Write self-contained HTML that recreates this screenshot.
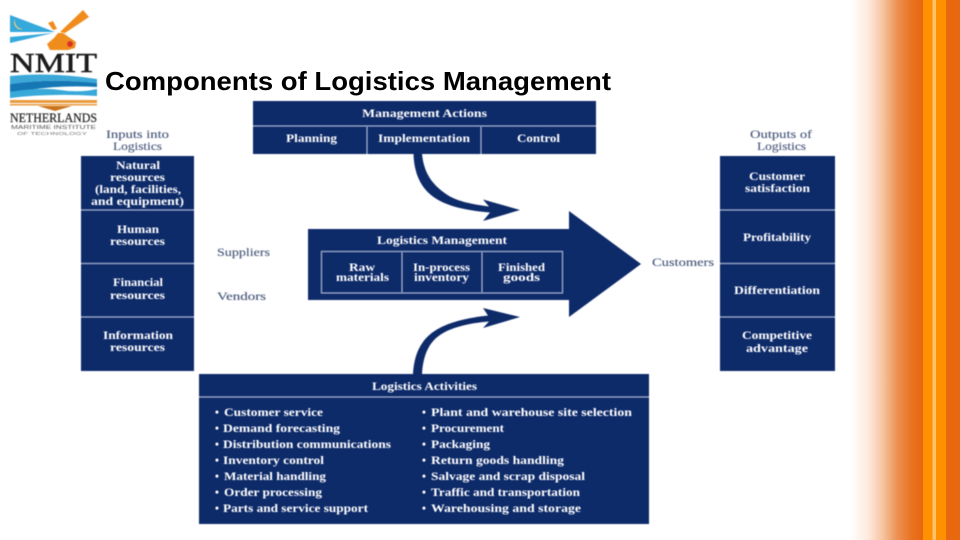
<!DOCTYPE html>
<html><head><meta charset="utf-8"><style>
html,body{margin:0;padding:0;background:#fff;width:960px;height:540px;overflow:hidden}
svg{display:block}
.w{fill:#fff;font:bold 11.2px "Liberation Serif",serif}
.g{fill:#47567a;font:11.2px "Liberation Serif",serif;stroke:#47567a;stroke-width:.12}
.n{fill:#0d2b69}
.d{stroke:#8aa3cf;stroke-width:1;fill:none}
</style></head><body>
<svg width="960" height="540" viewBox="0 0 960 540" xmlns="http://www.w3.org/2000/svg">
<defs>
<linearGradient id="bg" gradientUnits="userSpaceOnUse" x1="850" y1="0" x2="923" y2="0">
<stop offset="0" stop-color="#fff"/><stop offset=".25" stop-color="#fdeadd"/><stop offset=".45" stop-color="#f6c4a0"/><stop offset=".65" stop-color="#ec9052"/><stop offset=".85" stop-color="#e8721f"/><stop offset="1" stop-color="#e8660f"/>
</linearGradient>
<filter id="b" x="-5%" y="-5%" width="110%" height="110%"><feGaussianBlur stdDeviation=".4"/></filter>
</defs>
<rect x="850" y="0" width="73" height="540" fill="url(#bg)"/>
<rect x="923" y="0" width="9.500" height="540" fill="#ff9000"/>
<rect x="932.500" y="0" width="3.500" height="540" fill="#ffc26a"/>
<rect x="936" y="0" width="10" height="540" fill="#ff9000"/>
<rect x="946" y="0" width="14" height="540" fill="#e8680f"/>

<!-- Logo -->
<g filter="url(#b)">
<polygon points="10,15 55,32 10,32" fill="#35a8dc"/>
<polygon points="10,37 53,33 10,43" fill="#35a8dc"/>
<path d="M15,19 a7,7 0 0 0 8,10 a8,8 0 0 1 -8,-10z" fill="#e6d832"/>
<polygon points="60,32 83,10 89,17 65,33" fill="#f08c1e"/>
<polygon points="48,23 53,21 57,29 53,30" fill="#f08c1e"/>
<polygon points="58,33 63,33 76,42 75,48 68,50 50,50 47,44 54,38" fill="#f08c1e"/>
<circle cx="70" cy="44" r="3" fill="#d8322a"/>
<text x="10" y="72" font-family="Liberation Serif,serif" font-size="27" fill="#1a1a1a" stroke="#1a1a1a" stroke-width=".5" textLength="87" lengthAdjust="spacingAndGlyphs">NMIT</text>
<path d="M10,76 Q50,72 97,79 L97,83 Q50,78 10,84z" fill="#3aa8d8"/>
<path d="M10,84 Q50,78 97,83 L97,87 Q60,85 30,90 L10,92z" fill="#1277b5"/>
<path d="M10,92 Q40,87 60,90 T97,89 L97,96 Q50,93 10,98z" fill="#39a9d9"/>
<rect x="10" y="100" width="87" height="3" fill="#e89b3c"/>
<rect x="10" y="104" width="87" height="1.500" fill="#e89b3c"/>
<path d="M38,106 H72 L55,111z" fill="#c9731d"/>
<text x="10" y="122" font-family="Liberation Serif,serif" font-size="12.500" fill="#222" stroke="#222" stroke-width=".2" textLength="87" lengthAdjust="spacingAndGlyphs">NETHERLANDS</text>
<text x="11" y="129" font-family="Liberation Sans,sans-serif" font-size="5" fill="#555" textLength="85" lengthAdjust="spacingAndGlyphs">MARITIME INSTITUTE</text>
<text x="17" y="135" font-family="Liberation Sans,sans-serif" font-size="4.500" fill="#777" textLength="70" lengthAdjust="spacingAndGlyphs">OF TECHNOLOGY</text>
</g>

<text x="105" y="90" font-family="Liberation Sans,sans-serif" font-weight="bold" font-size="26" fill="#000" textLength="506" lengthAdjust="spacingAndGlyphs">Components of Logistics Management</text>

<!-- Shapes -->
<g filter="url(#b)">
<rect class="n" x="253" y="101" width="343" height="53"/>
<path class="d" d="M253,126H596M367,126V154M481,126V154"/>
<rect class="n" x="81" y="156" width="113" height="215"/>
<path class="d" d="M81,210H194M81,263.500H194M81,317H194"/>
<rect class="n" x="720" y="156" width="115" height="215"/>
<path class="d" d="M720,210H835M720,263.500H835M720,317H835"/>
<polygon class="n" points="308,229 569,229 569,211 641,264 569,317 569,300 308,300"/>
<rect x="321.500" y="251.500" width="241" height="41.500" fill="none" stroke="#8aa3cf"/>
<path class="d" d="M402,251V293M482,251V293"/>
<rect class="n" x="199" y="374" width="450" height="150"/>
<path class="d" d="M199,397H649"/>
<path class="n" d="M413.500,154 C414,172 420,186 431,195 C443,205 462,210 490,212.500 L483,221 L520,210 L483,199.500 L489,206.500 C470,204 456,201 446,194 C433,185 424,174 422,154z"/>
<path class="n" d="M413,374 C414,358 418,349 423,342 C432,330 448,320 488,315.500 L483,308 L520,317 L483,328 L489,321.500 C468,323 450,328 440,335 C428,343 423,357 422,374z"/>
</g>

<!-- Labels -->
<g filter="url(#b)">
<text class="w" x="362" y="117" textLength="125" lengthAdjust="spacingAndGlyphs">Management Actions</text>
<text class="w" x="286" y="142" textLength="51" lengthAdjust="spacingAndGlyphs">Planning</text>
<text class="w" x="378" y="142" textLength="92" lengthAdjust="spacingAndGlyphs">Implementation</text>
<text class="w" x="517" y="142" textLength="43" lengthAdjust="spacingAndGlyphs">Control</text>
<text class="w" x="377" y="244" textLength="130" lengthAdjust="spacingAndGlyphs">Logistics Management</text>
<text class="w" x="349" y="271" textLength="26" lengthAdjust="spacingAndGlyphs">Raw</text>
<text class="w" x="336" y="281" textLength="53" lengthAdjust="spacingAndGlyphs">materials</text>
<text class="w" x="413" y="271" textLength="57" lengthAdjust="spacingAndGlyphs">In-process</text>
<text class="w" x="414" y="281" textLength="55" lengthAdjust="spacingAndGlyphs">inventory</text>
<text class="w" x="498" y="271" textLength="47" lengthAdjust="spacingAndGlyphs">Finished</text>
<text class="w" x="503" y="281" textLength="37" lengthAdjust="spacingAndGlyphs">goods</text>

<text class="g" x="217" y="256" textLength="53" lengthAdjust="spacingAndGlyphs">Suppliers</text>
<text class="g" x="217" y="300" textLength="49" lengthAdjust="spacingAndGlyphs">Vendors</text>
<text class="g" x="652" y="266" textLength="62" lengthAdjust="spacingAndGlyphs">Customers</text>
<text class="g" x="106" y="138" textLength="63" lengthAdjust="spacingAndGlyphs">Inputs into</text>
<text class="g" x="113" y="150" textLength="49" lengthAdjust="spacingAndGlyphs">Logistics</text>
<text class="g" x="750" y="138" textLength="62" lengthAdjust="spacingAndGlyphs">Outputs of</text>
<text class="g" x="757" y="150" textLength="49" lengthAdjust="spacingAndGlyphs">Logistics</text>

<text class="w" x="116" y="169" textLength="44" lengthAdjust="spacingAndGlyphs">Natural</text>
<text class="w" x="110" y="181" textLength="55" lengthAdjust="spacingAndGlyphs">resources</text>
<text class="w" x="95" y="193" textLength="86" lengthAdjust="spacingAndGlyphs">(land, facilities,</text>
<text class="w" x="91" y="205" textLength="93" lengthAdjust="spacingAndGlyphs">and equipment)</text>
<text class="w" x="117" y="233" textLength="42" lengthAdjust="spacingAndGlyphs">Human</text>
<text class="w" x="110" y="245" textLength="55" lengthAdjust="spacingAndGlyphs">resources</text>
<text class="w" x="113" y="286" textLength="50" lengthAdjust="spacingAndGlyphs">Financial</text>
<text class="w" x="110" y="299" textLength="55" lengthAdjust="spacingAndGlyphs">resources</text>
<text class="w" x="103" y="339" textLength="70" lengthAdjust="spacingAndGlyphs">Information</text>
<text class="w" x="110" y="351" textLength="55" lengthAdjust="spacingAndGlyphs">resources</text>

<text class="w" x="749" y="180" textLength="56" lengthAdjust="spacingAndGlyphs">Customer</text>
<text class="w" x="745" y="192" textLength="65" lengthAdjust="spacingAndGlyphs">satisfaction</text>
<text class="w" x="743" y="241" textLength="68" lengthAdjust="spacingAndGlyphs">Profitability</text>
<text class="w" x="734" y="294" textLength="86" lengthAdjust="spacingAndGlyphs">Differentiation</text>
<text class="w" x="742" y="339" textLength="70" lengthAdjust="spacingAndGlyphs">Competitive</text>
<text class="w" x="746" y="352" textLength="62" lengthAdjust="spacingAndGlyphs">advantage</text>

<text class="w" x="372" y="390" textLength="105" lengthAdjust="spacingAndGlyphs">Logistics Activities</text>

<text class="w" x="215" y="416">•</text>
<text class="w" x="215" y="432">•</text>
<text class="w" x="215" y="448">•</text>
<text class="w" x="215" y="464">•</text>
<text class="w" x="215" y="480">•</text>
<text class="w" x="215" y="496">•</text>
<text class="w" x="215" y="512">•</text>
<text class="w" x="224" y="416" textLength="99" lengthAdjust="spacingAndGlyphs">Customer service</text>
<text class="w" x="223" y="432" textLength="117" lengthAdjust="spacingAndGlyphs">Demand forecasting</text>
<text class="w" x="223" y="448" textLength="168" lengthAdjust="spacingAndGlyphs">Distribution communications</text>
<text class="w" x="223" y="464" textLength="101" lengthAdjust="spacingAndGlyphs">Inventory control</text>
<text class="w" x="224" y="480" textLength="102" lengthAdjust="spacingAndGlyphs">Material handling</text>
<text class="w" x="224" y="496" textLength="98" lengthAdjust="spacingAndGlyphs">Order processing</text>
<text class="w" x="223" y="512" textLength="145" lengthAdjust="spacingAndGlyphs">Parts and service support</text>

<text class="w" x="422" y="416">•</text>
<text class="w" x="422" y="432">•</text>
<text class="w" x="422" y="448">•</text>
<text class="w" x="422" y="464">•</text>
<text class="w" x="422" y="480">•</text>
<text class="w" x="422" y="496">•</text>
<text class="w" x="422" y="512">•</text>
<text class="w" x="431" y="416" textLength="201" lengthAdjust="spacingAndGlyphs">Plant and warehouse site selection</text>
<text class="w" x="431" y="432" textLength="73" lengthAdjust="spacingAndGlyphs">Procurement</text>
<text class="w" x="431" y="448" textLength="59" lengthAdjust="spacingAndGlyphs">Packaging</text>
<text class="w" x="431" y="464" textLength="133" lengthAdjust="spacingAndGlyphs">Return goods handling</text>
<text class="w" x="431" y="480" textLength="154" lengthAdjust="spacingAndGlyphs">Salvage and scrap disposal</text>
<text class="w" x="431" y="496" textLength="149" lengthAdjust="spacingAndGlyphs">Traffic and transportation</text>
<text class="w" x="431" y="512" textLength="150" lengthAdjust="spacingAndGlyphs">Warehousing and storage</text>
</g>
</svg>
</body></html>
